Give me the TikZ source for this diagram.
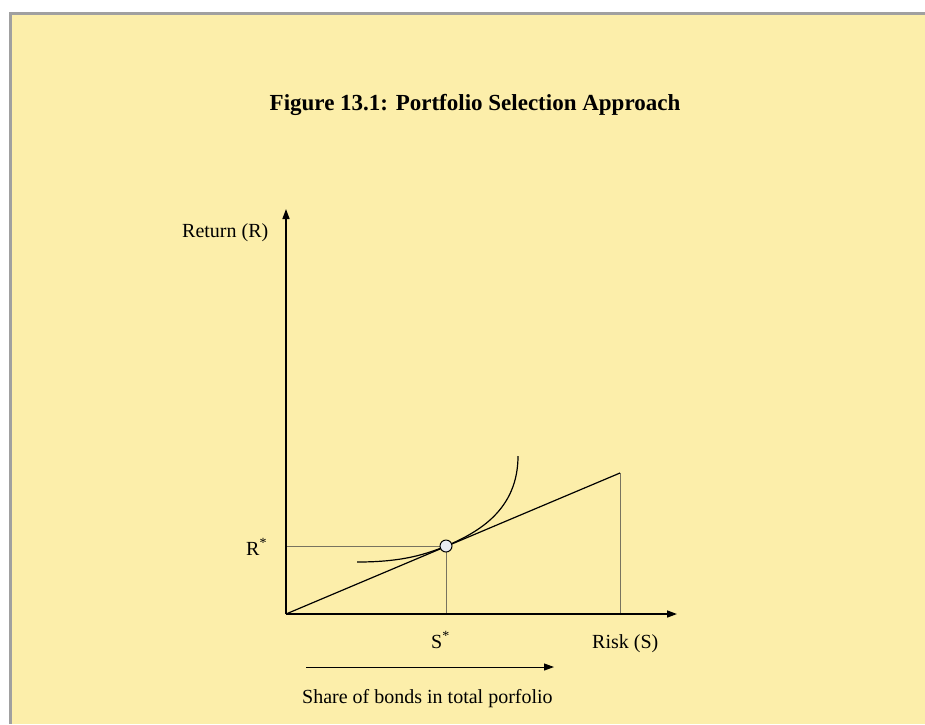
\documentclass[tikz,border=0pt]{standalone}
\usepackage{fontspec}
\setmainfont{Liberation Serif}
\usetikzlibrary{arrows.meta}
\definecolor{paper}{RGB}{252,238,170}
\definecolor{frame}{RGB}{160,160,160}
\definecolor{guide}{RGB}{120,115,95}
\definecolor{dotfill}{RGB}{232,234,240}

\begin{document}
\begin{tikzpicture}[
  x=1pt, y=-1pt,
  lbl/.style={font=\fontsize{20}{24}\selectfont, inner sep=0pt},
  ttl/.style={font=\fontsize{23}{28}\selectfont\bfseries, inner sep=0pt},
  axis/.style={line width=1.5pt, -{Triangle[length=10pt, width=7pt]}},
  guideline/.style={draw=guide, line width=0.9pt},
  curve/.style={line width=1.2pt},
  arr/.style={line width=1pt, -{Triangle[length=10pt, width=7pt]}},
  dot/.style={circle, draw, fill=dotfill, line width=1pt, minimum size=12pt, inner sep=0pt},
]

% Background and frame
\useasboundingbox (0,0) rectangle (925,724);
\fill[white] (0,0) rectangle (925,724);
\fill[paper] (12,15) rectangle (925,724);
\fill[frame] (9,12) rectangle (925,15);
\fill[frame] (9,12) rectangle (12,724);

% Points
\coordinate (O) at (286,614);
\coordinate (ytop) at (286,209);
\coordinate (xend) at (677,614);
\coordinate (P) at (446,546);
\coordinate (Q) at (620,473);
\coordinate (Qx) at (620,614);
\coordinate (Px) at (446,614);
\coordinate (Py) at (286,546);
\coordinate (c0) at (357,562);
\coordinate (c1) at (518,456);
\coordinate (s0) at (306,667);
\coordinate (s1) at (554,667);

% Labels
\node[ttl, anchor=base] (title) at (475,110) {Figure 13.1: Portfolio Selection Approach};
\node[lbl, anchor=base west] (ret) at (182,237) {Return (R)};
\node[lbl, anchor=base west] (rstar) at (246,555) {R\textsuperscript{*}};
\node[lbl, anchor=base west] (sstar) at (431,648) {S\textsuperscript{*}};
\node[lbl, anchor=base west] (risk) at (592,648) {Risk (S)};
\node[lbl, anchor=base west] (share) at (302,703) {Share of bonds in total porfolio};

% Guides
\draw[guideline] (Py) -- (P);
\draw[guideline] (P) -- (Px);
\draw[guideline] (Q) -- (Qx);

% Budget line and indifference curve
\draw[curve] (O) -- (Q);
\draw[curve] (c0) .. controls (395,562) and (420,557) .. (P)
             .. controls (478,532.5) and (518,510) .. (c1);

% Axes
\draw[axis] (O) -- (ytop);
\draw[axis] (O) -- (xend);
\node[dot] (opt) at (P) {};

% Direction arrow
\draw[arr] (s0) -- (s1);

\end{tikzpicture}
\end{document}
